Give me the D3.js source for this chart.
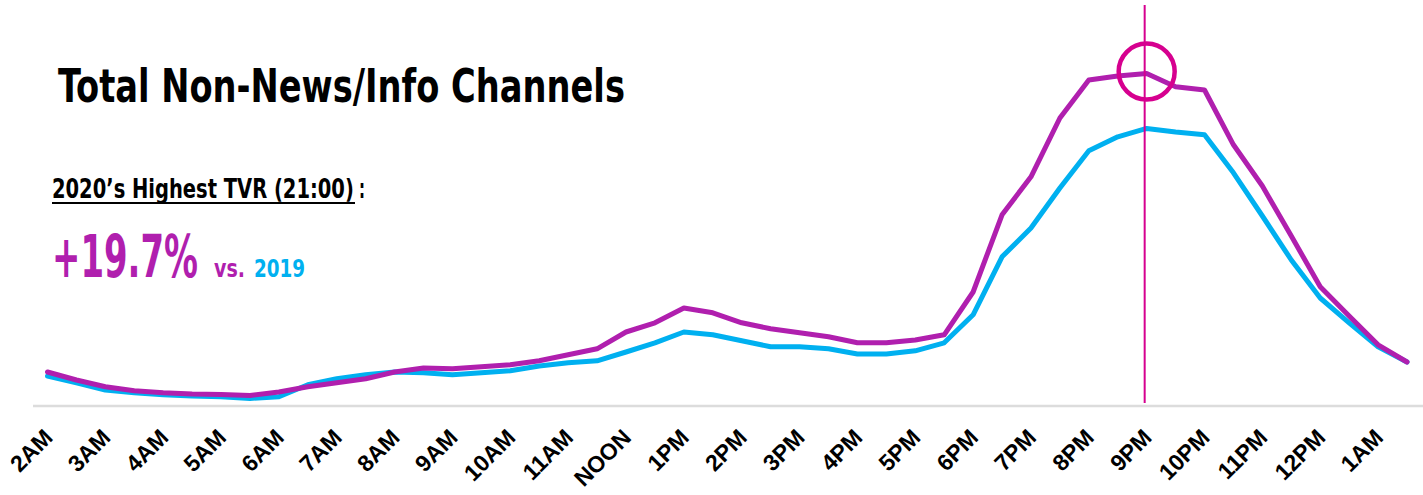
<!DOCTYPE html>
<html>
<head>
<meta charset="utf-8">
<script src="https://cdn.jsdelivr.net/npm/d3@7"></script>
<style>
  html, body { margin: 0; padding: 0; background: #ffffff; }
  svg { display: block; }
  .narrow { font-family: "Liberation Sans Narrow", "DejaVu Sans Condensed", "Roboto", sans-serif; font-weight: bold; }
  .tick text { font-family: "Liberation Sans", Arial, sans-serif; font-weight: bold; font-size: 23px; fill: #000; }
</style>
</head>
<body>
<svg id="chart" width="1423" height="495"></svg>
<script>
// Half-hour slots from 02:00 to 01:30 the next morning
const slots = d3.range(48);

// Hour labels placed on every full hour
const hourLabels = ["2AM","3AM","4AM","5AM","6AM","7AM","8AM","9AM","10AM","11AM","NOON",
  "1PM","2PM","3PM","4PM","5PM","6PM","7PM","8PM","9PM","10PM","11PM","12PM","1AM"];

// Average TVR per half hour, 2020
const tvr2020 = [0.85,0.65,0.48,0.38,0.33,0.30,0.29,0.26,0.35,0.48,0.58,0.68,
  0.85,0.95,0.93,0.98,1.03,1.13,1.28,1.43,1.85,2.08,2.45,2.33,
  2.08,1.93,1.83,1.73,1.58,1.58,1.65,1.78,2.85,4.78,5.73,7.20,
  8.15,8.25,8.31,7.98,7.90,6.53,5.50,4.25,2.98,2.25,1.53,1.10];

// Average TVR per half hour, 2019
const tvr2019 = [0.75,0.58,0.40,0.33,0.28,0.25,0.23,0.19,0.23,0.53,0.68,0.78,
  0.85,0.83,0.78,0.83,0.88,1.00,1.08,1.13,1.35,1.58,1.85,1.78,
  1.63,1.48,1.48,1.43,1.30,1.30,1.38,1.58,2.28,3.73,4.45,5.45,
  6.38,6.73,6.94,6.85,6.78,5.83,4.75,3.65,2.70,2.08,1.48,1.10];

// Highlighted slot (21:00)
const peakSlot = 38;

const COL_2020 = "#b01fae";
const COL_2019 = "#00b0f0";
const COL_MARK = "#d6008f";

const svg = d3.select("#chart");

const x = d3.scaleLinear().domain([0, 47]).range([47.5, 1407]);
const y = d3.scaleLinear().domain([0, 10]).range([406, 6]);

// Baseline
svg.append("line")
  .attr("x1", 33).attr("x2", 1423)
  .attr("y1", y(0)).attr("y2", y(0))
  .attr("stroke", "#dcdcdc").attr("stroke-width", 2.5);

// Hour axis with rotated labels
const xAxis = d3.axisBottom(x)
  .tickValues(d3.range(0, 48, 2))
  .tickSize(0)
  .tickFormat((d, i) => hourLabels[i]);

const axisG = svg.append("g")
  .attr("transform", `translate(0,${y(0)})`)
  .call(xAxis);
axisG.select(".domain").remove();
axisG.selectAll(".tick text")
  .attr("text-anchor", "end")
  .attr("dy", null)
  .attr("y", 0)
  .attr("transform", "translate(6,33) rotate(-45)");

// Series lines
const line = d3.line()
  .x((d, i) => x(slots[i]))
  .y(d => y(d));

svg.append("path")
  .datum(tvr2019)
  .attr("d", line)
  .attr("fill", "none")
  .attr("stroke", COL_2019)
  .attr("stroke-width", 5)
  .attr("stroke-linejoin", "round")
  .attr("stroke-linecap", "round");

svg.append("path")
  .datum(tvr2020)
  .attr("d", line)
  .attr("fill", "none")
  .attr("stroke", COL_2020)
  .attr("stroke-width", 5)
  .attr("stroke-linejoin", "round")
  .attr("stroke-linecap", "round");

// 21:00 marker line and ring
svg.append("line")
  .attr("x1", x(peakSlot) - 2).attr("x2", x(peakSlot) - 2)
  .attr("y1", 5).attr("y2", y(0) - 3)
  .attr("stroke", COL_MARK).attr("stroke-width", 2);

svg.append("circle")
  .attr("cx", x(peakSlot))
  .attr("cy", y(tvr2020[peakSlot]) - 2)
  .attr("r", 28)
  .attr("fill", "none")
  .attr("stroke", COL_MARK)
  .attr("stroke-width", 4.5);

// Headline text squeezed horizontally to a given width
function fitText(str, left, baseline, size, width, color) {
  const t = svg.append("text")
    .attr("class", "narrow")
    .attr("x", 0).attr("y", 0)
    .attr("font-size", size)
    .attr("fill", color)
    .text(str);
  const w = t.node().getComputedTextLength();
  t.attr("transform", `translate(${left},${baseline}) scale(${width / w},1)`);
  return t;
}

fitText("Total Non-News/Info Channels", 58, 102, 46, 567, "#000");

fitText("2020\u2019s Highest TVR (21:00)", 52, 198, 27, 302, "#000");
fitText(":", 359, 198, 27, 6, "#000");
svg.append("line")
  .attr("x1", 52).attr("x2", 355)
  .attr("y1", 203).attr("y2", 203)
  .attr("stroke", "#000").attr("stroke-width", 2);

const pct = ((tvr2020[peakSlot] / tvr2019[peakSlot] - 1) * 100).toFixed(1);

fitText(`+${pct}%`, 52, 277, 58, 146, COL_2020);
fitText("vs.", 214, 277, 25, 31, COL_2020);
fitText("2019", 254, 277, 25, 51, COL_2019);
</script>
</body>
</html>
